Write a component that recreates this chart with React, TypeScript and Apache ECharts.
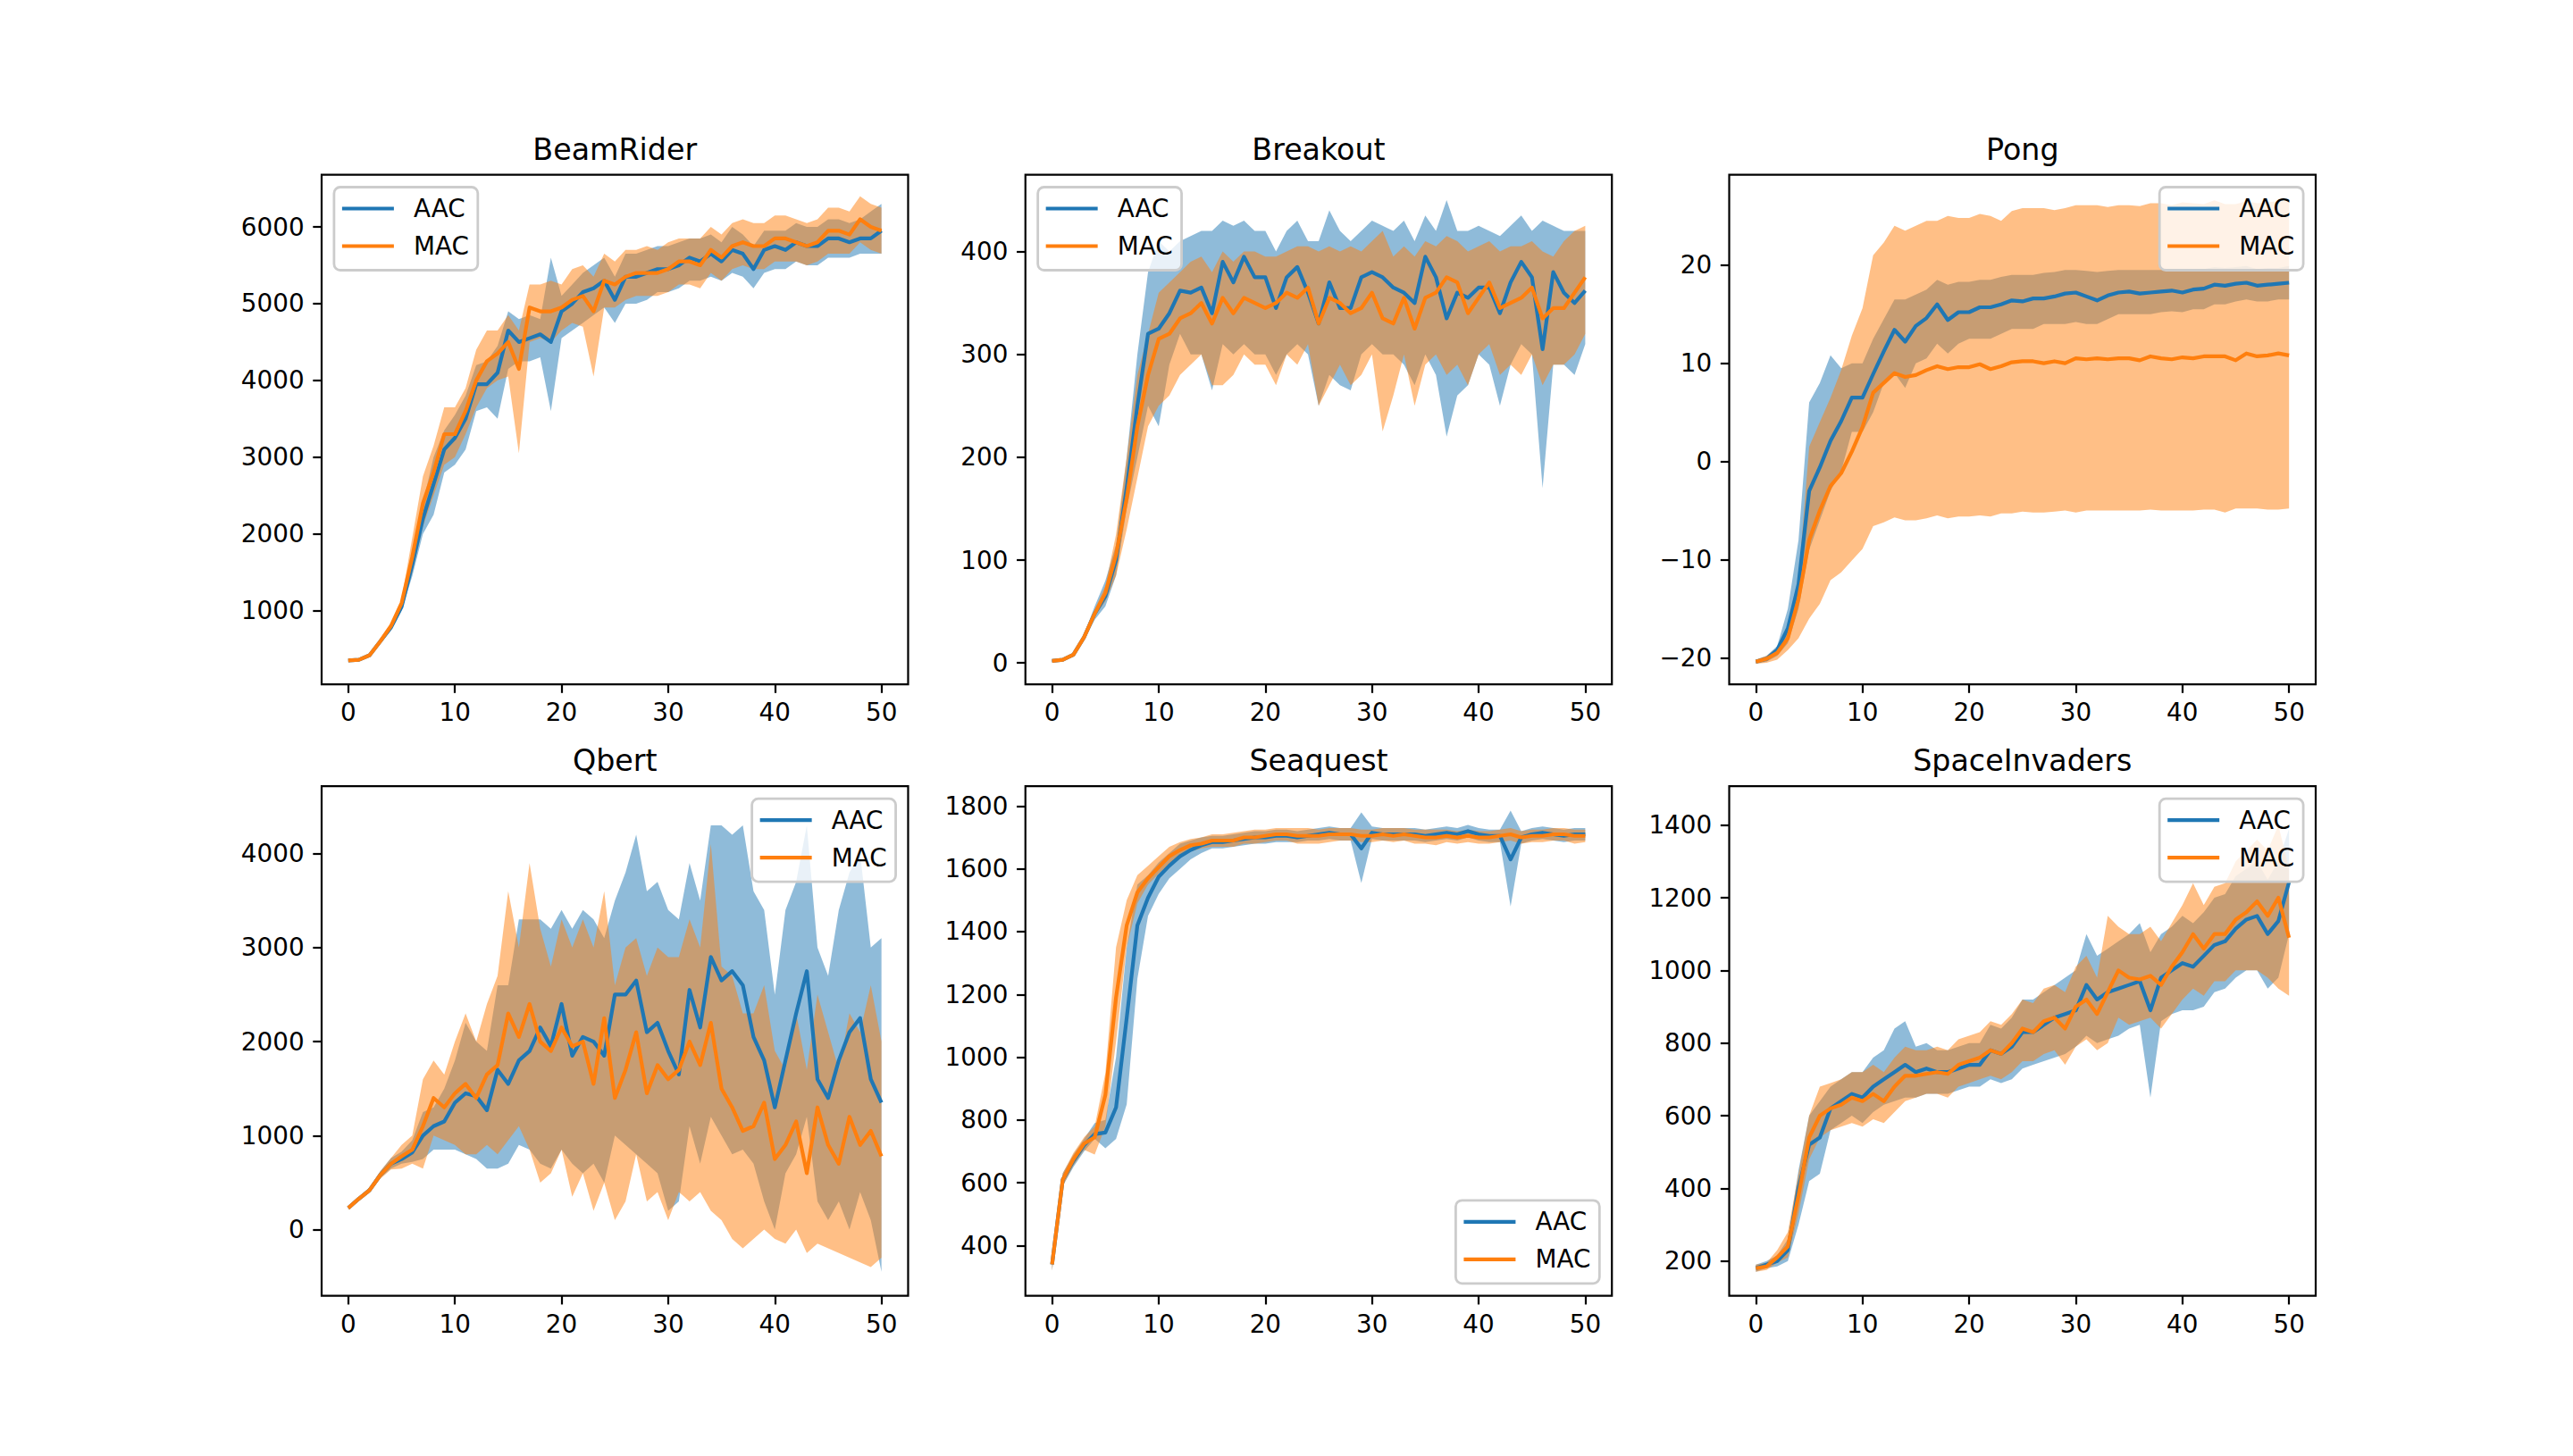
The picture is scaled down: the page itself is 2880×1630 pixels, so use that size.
import React, { useEffect, useRef } from 'react';
import * as echarts from 'echarts';

// ---------- shared x positions and tick labels ----------
const STEPS = [0,1,2,3,4,5,6,7,8,9,10,11,12,13,14,15,16,17,18,19,20,21,22,23,24,25,26,27,28,29,30,31,32,33,34,35,36,37,38,39,40,41,42,43,44,45,46,47,48,49,50];
const X_TICKS = [0, 10, 20, 30, 40, 50];

// ---------- BeamRider ----------
const beamAacMean = [350,360,420,600,780,1050,1600,2200,2650,3100, 3250,3500,3950,3950,4100,4650,4500,4550,4600,4500, 4900,5000,5150,5200,5300,5050,5350,5350,5400,5450, 5450,5500,5600,5550,5650,5550,5700,5650,5450,5700, 5750,5700,5800,5750,5750,5850,5850,5800,5850,5850, 5950];
const beamAacLo = [330,340,400,570,740,1000,1450,2000,2250,2800, 2900,3100,3600,3650,3500,4150,4250,4250,4300,3600, 4550,4650,4750,4850,4950,4750,5000,5000,5050,5150, 5150,5200,5300,5300,5350,5300,5400,5350,5200,5400, 5450,5450,5550,5500,5500,5600,5600,5600,5650,5650, 5650];
const beamAacHi = [370,380,440,630,820,1100,1750,2400,3000,3350, 3550,3800,4200,4250,4450,4900,4800,4850,4800,5600, 5100,5250,5400,5500,5600,5350,5650,5650,5700,5750, 5750,5800,5850,5850,5900,5800,6000,5900,5750,5950, 5950,5950,6050,6000,6000,6100,6100,6050,6100,6200, 6300];
const beamMacMean = [350,360,420,600,800,1100,1700,2400,2800,3300, 3300,3600,4000,4250,4350,4500,4150,4950,4900,4900, 4950,5050,5100,4900,5300,5250,5350,5400,5400,5400, 5450,5550,5550,5500,5700,5600,5750,5800,5750,5750, 5850,5850,5800,5750,5800,5950,5950,5900,6100,6000, 5950];
const beamMacLo = [330,340,400,580,770,1050,1500,2100,2500,2900, 3000,3300,3650,3900,4000,4050,3050,4500,4550,4500, 4650,4750,4700,4050,4950,4950,5050,5100,5100,5100, 5150,5250,5250,5200,5400,5300,5450,5500,5450,5450, 5550,5550,5550,5500,5550,5650,5650,5650,5800,5700, 5650];
const beamMacHi = [370,380,440,620,830,1150,1950,2750,3150,3650, 3650,3900,4400,4650,4650,4850,4650,5250,5250,5300, 5250,5450,5500,5350,5650,5550,5700,5700,5750,5700, 5800,5850,5850,5850,6000,5900,6050,6100,6050,6050, 6150,6150,6100,6050,6100,6250,6250,6200,6400,6300, 6250];
const beamYTicks = [1000, 2000, 3000, 4000, 5000, 6000];

// ---------- Breakout ----------
const brkAacMean = [2,3,8,25,48,65,100,170,250,320, 325,340,362,360,365,340,390,370,395,375, 375,345,375,385,360,330,370,345,345,375, 380,375,365,360,350,395,375,335,360,355, 365,365,340,370,390,375,305,380,360,350, 362];
const brkAacLo = [1,2,6,22,42,55,85,150,200,250, 230,290,320,300,300,265,310,300,310,300, 300,280,300,310,300,250,280,270,265,300, 310,300,300,290,270,300,280,220,260,270, 300,290,250,290,310,300,170,290,290,280, 310];
const brkAacHi = [3,4,10,28,55,80,115,200,300,380, 410,400,410,415,420,420,430,425,430,420, 420,400,420,430,410,410,440,420,410,420, 430,425,420,430,410,435,420,450,420,420, 425,420,415,425,435,420,430,425,420,420, 420];
const brkMacMean = [2,3,8,25,48,68,105,160,230,280, 315,320,335,340,350,330,355,340,355,350, 345,350,360,355,365,330,355,350,340,345, 360,335,330,355,325,355,360,375,370,340, 355,370,345,350,355,365,335,345,345,360, 375];
const brkMacLo = [1,2,6,22,45,60,85,130,180,230, 250,260,280,290,300,270,270,280,300,290, 290,270,300,290,310,250,270,290,270,280, 300,225,260,300,250,290,300,280,290,270, 300,310,280,290,280,300,270,290,290,300, 320];
const brkMacHi = [3,4,10,28,52,75,125,200,280,320, 360,370,380,390,395,380,400,390,400,400, 395,395,400,405,405,400,405,400,405,400, 410,420,395,405,395,410,405,415,410,400, 405,410,400,405,405,410,400,395,410,420, 425];
const brkYTicks = [0, 100, 200, 300, 400];

// ---------- Pong ----------
const pongAacMean = [-20.4,-20.1,-19.2,-17,-12.5,-3,-0.6,2.1,4.1,6.5, 6.5,8.9,11.2,13.4,12.2,13.8,14.6,16,14.4,15.2, 15.2,15.7,15.7,16,16.4,16.3,16.6,16.6,16.8,17.1, 17.2,16.8,16.4,16.9,17.2,17.3,17.1,17.2,17.3,17.4, 17.2,17.5,17.6,18,17.9,18.1,18.2,17.9,18,18.1, 18.2];
const pongAacLo = [-20.6,-20.4,-19.8,-18.5,-15,-9,-6,-3,-1,3, 3,5,8,9,7.5,10,10.5,12,11,12, 12.5,12.5,12.5,13,13.5,13.5,13.5,14,14,14, 14.2,14,14,14.5,15,15,15,15,15.2,15.3, 15.2,15.5,15.5,16,16,16.3,16.5,16.3,16.3,16.5, 16.5];
const pongAacHi = [-20.2,-19.8,-18.8,-15,-8,6,8,10.8,9.5,10, 10,12.5,14.5,16.5,16.5,17,17.5,18.5,18,18.3, 18.3,18.5,18.5,18.8,19,19,19,19.2,19.3,19.5, 19.5,19.4,19.3,19.4,19.5,19.5,19.5,19.5,19.5,19.5, 19.4,19.6,19.6,19.8,19.7,19.8,19.9,19.6,19.7,19.7, 19.9];
const pongMacMean = [-20.4,-20.1,-19.5,-18,-14,-8,-5,-2.5,-1.2,1, 3.5,7,8,9,8.6,8.8,9.3,9.7,9.4,9.6, 9.6,9.9,9.4,9.7,10.1,10.2,10.2,10,10.2,10, 10.5,10.4,10.5,10.4,10.5,10.5,10.3,10.7,10.5,10.4, 10.6,10.5,10.7,10.7,10.7,10.3,11,10.7,10.8,11, 10.8];
const pongMacLo = [-20.6,-20.5,-20.2,-19.2,-18,-16,-14.5,-12.1,-11.3,-10.1, -8.9,-6.6,-6.2,-5.7,-6,-6,-5.8,-5.5,-5.8,-5.6, -5.6,-5.5,-5.6,-5.3,-5.3,-5.1,-5.2,-5.2,-5.1,-5, -5.2,-5,-5,-5,-5,-5,-5,-4.9,-5,-5, -5,-5,-4.9,-4.9,-5.2,-4.8,-4.8,-4.8,-4.9,-4.9, -4.8];
const pongMacHi = [-20.2,-19.8,-19,-17,-12,1.5,4,6.5,9.3,12.8, 15.6,21,22.3,24,23.5,24,24.5,24.5,25,24.8, 24.8,25.2,25,24.5,25.5,25.8,25.8,25.8,25.6,25.8, 26.1,26.1,26.1,25.9,26.1,26.1,26,26.3,26.3,26.1, 26.4,26.3,26.2,26.6,26.2,26.2,26.5,26.3,26.4,26.5, 26.5];
const pongYTicks = [-20, -10, 0, 10, 20];

// ---------- Qbert ----------
const qbAacMean = [230,330,420,580,700,750,820,1000,1100,1150, 1350,1450,1420,1270,1700,1550,1800,1900,2150,1950, 2400,1850,2050,2000,1850,2500,2500,2650,2100,2200, 1900,1650,2550,2150,2900,2650,2750,2600,2050,1800, 1300,1800,2300,2750,1600,1400,1800,2100,2250,1600, 1350];
const qbAacLo = [220,310,400,550,650,700,720,750,850,850, 850,800,750,650,650,700,900,850,700,650, 850,700,600,700,500,1000,900,800,700,600, 200,300,1100,700,1200,1000,800,850,700,300, 0,600,800,1200,300,100,300,0,400,100, -450];
const qbAacHi = [250,350,450,620,760,830,950,1250,1300,1500, 1800,2200,2000,1900,2600,2600,3300,3300,3300,3200, 3400,3200,3400,3300,3100,3500,3800,4200,3600,3700, 3400,3300,3900,3500,4300,4300,4200,4300,3600,3400, 2500,3400,3700,4300,3000,2700,3400,3800,4000,3000, 3100];
const qbMacMean = [230,330,420,580,700,780,850,1100,1400,1300, 1450,1550,1400,1650,1750,2300,2050,2400,2000,1900, 2150,1950,2000,1550,2250,1400,1700,2100,1450,1750, 1600,1700,2000,1750,2200,1500,1300,1050,1100,1350, 750,900,1150,600,1300,900,700,1200,900,1050, 780];
const qbMacLo = [210,300,390,540,640,650,700,650,1000,950, 900,800,800,900,800,950,1100,850,500,600, 850,350,600,200,500,100,300,800,300,400, 100,400,300,400,200,100,-100,-200,-100,0, -100,-150,0,-250,-150,-200,-250,-300,-350,-400, -300];
const qbMacHi = [250,350,450,620,760,900,1000,1600,1800,1650, 2000,2300,2000,2400,2700,3600,3000,3900,3200,2800, 3300,3000,3300,3000,3600,2600,3000,3100,2700,3000, 2900,2900,3300,3000,4100,2800,2700,2300,2300,2600, 1900,1700,2300,1700,2500,2100,1700,2300,2100,2600, 2000];
const qbYTicks = [0, 1000, 2000, 3000, 4000];

// ---------- Seaquest ----------
const sqAacMean = [340,610,670,720,755,760,840,1125,1420,1508, 1575,1610,1640,1660,1675,1685,1685,1690,1695,1700, 1700,1705,1705,1700,1705,1710,1715,1710,1710,1665, 1715,1710,1710,1710,1710,1705,1710,1715,1710,1720, 1710,1705,1705,1630,1700,1710,1715,1710,1705,1710, 1710];
const sqAacLo = [320,590,650,700,740,710,740,850,1250,1450, 1520,1570,1600,1630,1650,1665,1665,1670,1675,1680, 1680,1685,1685,1685,1690,1690,1695,1690,1690,1555, 1695,1690,1690,1690,1690,1685,1690,1695,1690,1700, 1690,1685,1685,1480,1680,1690,1695,1690,1685,1690, 1690];
const sqAacHi = [360,630,690,740,790,800,1000,1350,1550,1580, 1620,1650,1680,1690,1700,1705,1705,1710,1715,1720, 1720,1725,1725,1720,1725,1730,1735,1730,1730,1780, 1735,1730,1730,1730,1730,1725,1730,1735,1730,1740, 1730,1725,1725,1785,1720,1730,1735,1730,1725,1730, 1730];
const sqMacMean = [340,610,675,725,745,880,1190,1420,1525,1570, 1605,1640,1660,1675,1680,1690,1690,1690,1700,1700, 1705,1710,1710,1705,1705,1705,1710,1710,1710,1705, 1705,1710,1705,1710,1705,1700,1700,1705,1700,1705, 1700,1700,1705,1710,1700,1705,1705,1710,1710,1705, 1705];
const sqMacLo = [320,590,655,705,690,780,1050,1350,1490,1550, 1585,1615,1640,1655,1665,1670,1670,1670,1680,1680, 1685,1690,1690,1680,1680,1680,1685,1690,1690,1685, 1685,1690,1685,1690,1680,1680,1675,1685,1680,1685, 1680,1680,1685,1690,1680,1685,1685,1690,1690,1680, 1685];
const sqMacHi = [360,630,695,745,780,950,1350,1500,1580,1610, 1640,1670,1685,1695,1700,1710,1710,1715,1720,1725, 1725,1730,1730,1730,1730,1725,1730,1730,1730,1725, 1725,1730,1730,1730,1725,1725,1725,1725,1720,1725, 1720,1720,1725,1730,1720,1725,1725,1730,1730,1725, 1725];
const sqYTicks = [400, 600, 800, 1000, 1200, 1400, 1600, 1800];

// ---------- SpaceInvaders ----------
const siAacMean = [180,190,200,230,400,520,540,620,640,660, 650,680,700,720,740,720,730,720,720,730, 740,740,780,770,790,830,830,850,870,880, 890,960,920,940,950,960,970,890,980,1000, 1020,1010,1040,1070,1080,1115,1140,1150,1100,1136, 1243];
const siAacLo = [170,180,185,200,300,420,440,560,580,600, 580,610,630,640,650,650,660,660,660,670, 680,680,700,690,700,730,740,750,760,770, 790,820,800,810,820,840,850,650,860,880, 890,890,900,940,950,980,1000,1000,950,980, 1100];
const siAacHi = [190,200,215,260,450,600,640,680,700,720, 720,760,780,840,860,790,800,780,780,790, 800,800,850,840,870,920,920,940,960,980, 1000,1100,1040,1060,1080,1100,1130,1050,1100,1120, 1150,1130,1160,1200,1210,1260,1280,1300,1250,1300, 1390];
const siMacMean = [180,185,210,240,380,540,600,620,630,650, 640,660,640,680,710,710,715,720,715,740, 750,760,780,770,800,840,830,860,870,840, 900,920,880,940,1000,980,975,985,960,1010, 1050,1100,1060,1100,1100,1140,1160,1190,1150,1200, 1090];
const siMacLo = [170,175,195,210,330,480,540,560,570,580, 570,590,580,610,640,650,660,660,650,680, 690,700,710,700,720,750,750,770,780,740, 790,810,780,800,870,850,860,870,840,880, 920,950,930,970,970,1000,1000,1000,980,950, 930];
const siMacHi = [190,195,230,280,440,600,680,690,700,720, 720,740,720,760,790,780,780,790,780,810, 820,830,860,850,880,920,910,950,960,940, 1010,1040,980,1150,1120,1100,1100,1120,1080,1130, 1180,1240,1180,1230,1240,1300,1330,1360,1330,1400, 1280];
const siYTicks = [200, 400, 600, 800, 1000, 1200, 1400];

// ---------- panels ----------
const PANELS = [
  { title: 'BeamRider', aac: [beamAacMean, beamAacLo, beamAacHi], mac: [beamMacMean, beamMacLo, beamMacHi], yMin: 40, yMax: 6680, yTicks: beamYTicks, legend: 'ul' },
  { title: 'Breakout', aac: [brkAacMean, brkAacLo, brkAacHi], mac: [brkMacMean, brkMacLo, brkMacHi], yMin: -20.8, yMax: 474.7, yTicks: brkYTicks, legend: 'ul' },
  { title: 'Pong', aac: [pongAacMean, pongAacLo, pongAacHi], mac: [pongMacMean, pongMacLo, pongMacHi], yMin: -22.7, yMax: 29.2, yTicks: pongYTicks, legend: 'ur' },
  { title: 'Qbert', aac: [qbAacMean, qbAacLo, qbAacHi], mac: [qbMacMean, qbMacLo, qbMacHi], yMin: -705, yMax: 4717, yTicks: qbYTicks, legend: 'ur' },
  { title: 'Seaquest', aac: [sqAacMean, sqAacLo, sqAacHi], mac: [sqMacMean, sqMacLo, sqMacHi], yMin: 240, yMax: 1863, yTicks: sqYTicks, legend: 'lr' },
  { title: 'SpaceInvaders', aac: [siAacMean, siAacLo, siAacHi], mac: [siMacMean, siMacLo, siMacHi], yMin: 104, yMax: 1507, yTicks: siYTicks, legend: 'ur' },
];

const W = 2880;
const H = 1630;
const COL_LEFT = [360, 1147.76, 1935.53];
const ROW_TOP = [195.6, 880.2];
const AX_W = 656.47;
const AX_H = 570.5;
const FONT = '"DejaVu Sans", sans-serif';
const TICK_FS = 27.8;
const BLUE = '#1f77b4';
const ORANGE = '#ff7f0e';
const BLUE_BAND = 'rgba(31,119,180,0.5)';
const ORANGE_BAND = 'rgba(255,127,14,0.5)';

function bandSeries(idx: number, lo: number[], hi: number[], fill: string, name: string, z: number) {
  return {
    type: 'custom',
    name,
    xAxisIndex: idx,
    yAxisIndex: idx,
    silent: true,
    z,
    data: STEPS.map((x, k) => [x, lo[k], hi[k]]),
    encode: { x: 0, y: [1, 2] },
    renderItem: (params: any, api: any) => {
      if (params.dataIndex !== 0) return { type: 'group', children: [] };
      const pts: number[][] = [];
      for (let k = 0; k < STEPS.length; k++) pts.push(api.coord([STEPS[k], hi[k]]));
      for (let k = STEPS.length - 1; k >= 0; k--) pts.push(api.coord([STEPS[k], lo[k]]));
      return { type: 'polygon', shape: { points: pts }, style: { fill, stroke: null } };
    },
  };
}

function lineSeries(idx: number, mean: number[], color: string, name: string, z: number) {
  return {
    type: 'line',
    name,
    xAxisIndex: idx,
    yAxisIndex: idx,
    silent: true,
    z,
    symbol: 'none',
    showSymbol: false,
    data: STEPS.map((x, k) => [x, mean[k]]),
    lineStyle: { color, width: 4.2, join: 'round' },
    itemStyle: { color },
  };
}

function buildOption() {
  const grid: any[] = [];
  const xAxis: any[] = [];
  const yAxis: any[] = [];
  const title: any[] = [];
  const legend: any[] = [];
  const series: any[] = [];

  PANELS.forEach((p, i) => {
    const col = i % 3;
    const row = Math.floor(i / 3);
    const left = COL_LEFT[col];
    const top = ROW_TOP[row];
    grid.push({
      left, top, width: AX_W, height: AX_H,
      show: true, borderColor: '#000', borderWidth: 2.2, backgroundColor: 'transparent',
      containLabel: false,
    });
    xAxis.push({
      type: 'value', gridIndex: i, min: -2.5, max: 52.5,
      axisLine: { show: false, onZero: false },
      splitLine: { show: false },
      axisTick: { show: true, length: 9.7, lineStyle: { color: '#000', width: 2.2 }, customValues: X_TICKS },
      axisLabel: { show: true, margin: 17.5, fontSize: TICK_FS, fontFamily: FONT, color: '#000', customValues: X_TICKS },
    });
    yAxis.push({
      type: 'value', gridIndex: i, min: p.yMin, max: p.yMax,
      axisLine: { show: false, onZero: false },
      splitLine: { show: false },
      axisTick: { show: true, length: 9.7, lineStyle: { color: '#000', width: 2.2 }, customValues: p.yTicks },
      axisLabel: {
        show: true, margin: 19.4, fontSize: TICK_FS, fontFamily: FONT, color: '#000', customValues: p.yTicks,
        formatter: (v: number) => String(v).replace('-', '\u2212'),
      },
    });
    title.push({
      text: p.title,
      left: left + AX_W / 2,
      top: top - 45,
      textAlign: 'center',
      padding: 0,
      textStyle: { fontSize: 33.3, fontWeight: 'normal', fontFamily: FONT, color: '#000' },
    });
    const lg: any = {
      data: ['AAC', 'MAC'],
      orient: 'vertical',
      icon: 'rect',
      itemWidth: 58,
      itemHeight: 4.2,
      itemGap: 14,
      selectedMode: false,
      padding: [10, 10, 13, 9],
      backgroundColor: 'rgba(255,255,255,0.8)',
      borderColor: '#cccccc',
      borderWidth: 2.8,
      borderRadius: 7,
      textStyle: { fontSize: TICK_FS, fontFamily: FONT, color: '#000', lineHeight: 28, padding: [0, 0, 0, 17] },
    };
    if (p.legend === 'ul') {
      lg.left = left + 13.9;
      lg.top = top + 13.9;
    } else if (p.legend === 'ur') {
      lg.right = W - (left + AX_W - 13.9);
      lg.top = top + 13.9;
    } else {
      lg.right = W - (left + AX_W - 13.9);
      lg.bottom = H - (top + AX_H - 13.9);
    }
    legend.push(lg);

    series.push(bandSeries(i, p.aac[1], p.aac[2], BLUE_BAND, 'AAC band', 1));
    series.push(bandSeries(i, p.mac[1], p.mac[2], ORANGE_BAND, 'MAC band', 2));
    series.push(lineSeries(i, p.aac[0], BLUE, 'AAC', 3));
    series.push(lineSeries(i, p.mac[0], ORANGE, 'MAC', 4));
  });

  return {
    animation: false,
    backgroundColor: '#ffffff',
    textStyle: { fontFamily: FONT },
    grid, xAxis, yAxis, title, legend, series,
  };
}

export default function App() {
  const ref = useRef<HTMLDivElement>(null);
  useEffect(() => {
    document.body.style.margin = '0';
    if (!ref.current) return;
    const chart = echarts.init(ref.current, null, { renderer: 'svg', width: W, height: H });
    chart.setOption(buildOption() as any);
    return () => chart.dispose();
  }, []);
  return <div ref={ref} style={{ width: W, height: H, background: '#fff' }} />;
}
